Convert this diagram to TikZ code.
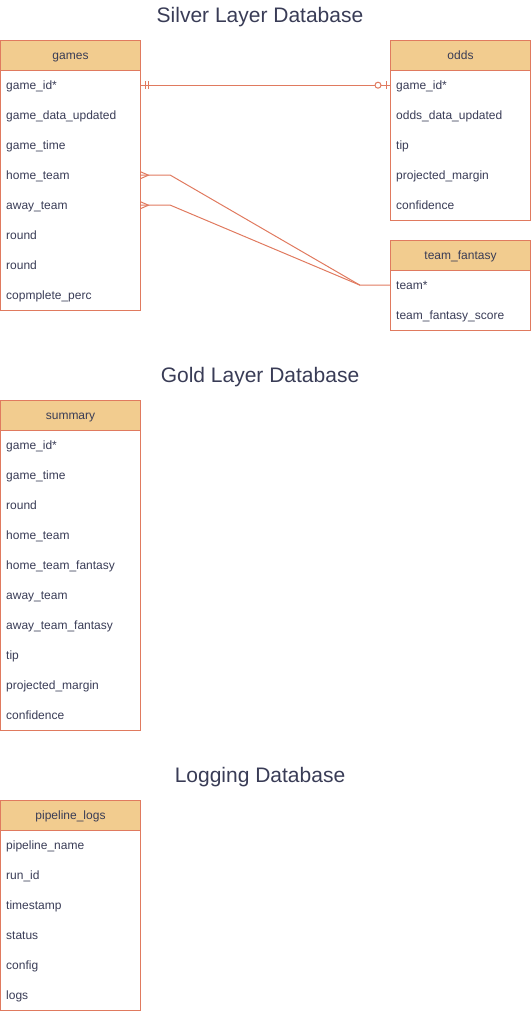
\documentclass[tikz,border=0pt]{standalone}
\usepackage{fontspec}
\setmainfont{Liberation Sans}
\usetikzlibrary{calc}
\definecolor{ln}{HTML}{E07A5F}
\definecolor{hd}{HTML}{F2CC8F}
\definecolor{tx}{HTML}{393C56}
\begin{document}
\begin{tikzpicture}[x=1pt,y=-1pt,
  hdr/.style={draw=ln, line width=1pt, fill=hd, minimum width=140pt, minimum height=30pt, inner sep=0pt, text height=9.5pt, text depth=1.5pt, anchor=north west, text=tx, font=\fontsize{12}{14}\selectfont},
  body/.style={draw=ln, line width=1pt, minimum width=140pt, inner sep=0pt, anchor=north west},
  row/.style={minimum width=140pt, minimum height=30pt, inner sep=0pt, text width=128pt, text height=9.5pt, text depth=1.5pt, align=left, anchor=north west, text=tx, font=\fontsize{12}{14}\selectfont},
  ttl/.style={text=tx, font=\fontsize{21}{25}\selectfont},
  rel/.style={draw=ln, line width=1pt}]
\useasboundingbox (0,0) rectangle (531,1011);

% titles
\node[ttl] (t1) at (260,17.5) {Silver Layer Database};
\node[ttl] (t2) at (260,377.5) {Gold Layer Database};
\node[ttl] (t3) at (260,777.5) {Logging Database};

% games
\node[body, minimum height=240pt] (gb) at (0,70) {};
\node[hdr] (games) at (0,40) {games};
\node[row] (g1) at (0,70) {game\_id*};
\node[row] (g2) at (0,100) {game\_data\_updated};
\node[row] (g3) at (0,130) {game\_time};
\node[row] (g4) at (0,160) {home\_team};
\node[row] (g5) at (0,190) {away\_team};
\node[row] (g6) at (0,220) {round};
\node[row] (g7) at (0,250) {round};
\node[row] (g8) at (0,280) {copmplete\_perc};

% odds
\node[body, minimum height=150pt] (ob) at (390,70) {};
\node[hdr] (odds) at (390,40) {odds};
\node[row] (o1) at (390,70) {game\_id*};
\node[row] (o2) at (390,100) {odds\_data\_updated};
\node[row] (o3) at (390,130) {tip};
\node[row] (o4) at (390,160) {projected\_margin};
\node[row] (o5) at (390,190) {confidence};

% team_fantasy
\node[body, minimum height=60pt] (tb) at (390,270) {};
\node[hdr] (tf) at (390,240) {team\_fantasy};
\node[row] (f1) at (390,270) {team*};
\node[row] (f2) at (390,300) {team\_fantasy\_score};

% summary
\node[body, minimum height=300pt] (sb) at (0,430) {};
\node[hdr] (summary) at (0,400) {summary};
\node[row] (s1) at (0,430) {game\_id*};
\node[row] (s2) at (0,460) {game\_time};
\node[row] (s3) at (0,490) {round};
\node[row] (s4) at (0,520) {home\_team};
\node[row] (s5) at (0,550) {home\_team\_fantasy};
\node[row] (s6) at (0,580) {away\_team};
\node[row] (s7) at (0,610) {away\_team\_fantasy};
\node[row] (s8) at (0,640) {tip};
\node[row] (s9) at (0,670) {projected\_margin};
\node[row] (s10) at (0,700) {confidence};

% pipeline_logs
\node[body, minimum height=180pt] (pb) at (0,830) {};
\node[hdr] (pl) at (0,800) {pipeline\_logs};
\node[row] (p1) at (0,830) {pipeline\_name};
\node[row] (p2) at (0,860) {run\_id};
\node[row] (p3) at (0,890) {timestamp};
\node[row] (p4) at (0,920) {status};
\node[row] (p5) at (0,950) {config};
\node[row] (p6) at (0,980) {logs};

% relation games.game_id -- odds.game_id (one mandatory to zero-or-one)
\draw[rel] (g1.east) -- (o1.west);
\draw[rel] ($(g1.east)+(5,-4)$) -- ++(0,8);
\draw[rel] ($(g1.east)+(8,-4)$) -- ++(0,8);
\draw[rel, fill=white] ($(o1.west)+(-12,0)$) circle (3);
\draw[rel] ($(o1.west)+(-4,-4)$) -- ++(0,8);

% relations home/away team -> team_fantasy.team (many)
\coordinate (j) at ($(f1.west)+(-30,0)$);
\draw[rel] (g4.east) -- ++(30,0) -- (j) -- (f1.west);
\draw[rel] (g5.east) -- ++(30,0) -- (j);
\draw[rel] ($(g4.east)+(0,-3.5)$) -- ++(8,3.5) -- ++(-8,3.5);
\draw[rel] ($(g5.east)+(0,-3.5)$) -- ++(8,3.5) -- ++(-8,3.5);
\end{tikzpicture}
\end{document}
